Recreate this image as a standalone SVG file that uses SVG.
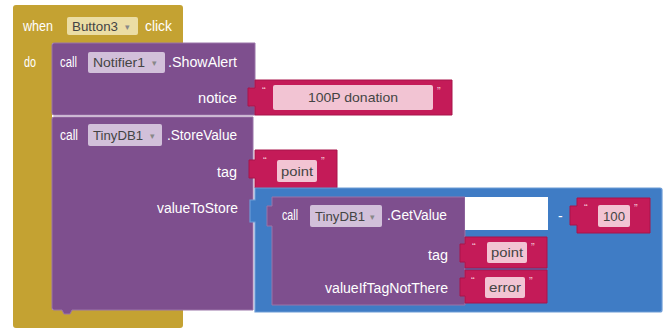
<svg xmlns="http://www.w3.org/2000/svg" width="665" height="331" viewBox="0 0 665 331">
<style>
.t{font-family:"Liberation Sans","DejaVu Sans",sans-serif;font-size:14px;fill:#fff}
.d{font-family:"Liberation Sans","DejaVu Sans",sans-serif;font-size:13px;fill:#444}
.q{font-family:"Liberation Sans","DejaVu Sans",sans-serif;font-size:11px;fill:#f6c9d8}
.ar{font-family:"DejaVu Sans",sans-serif;font-size:9px;fill:#888}
.gold{fill:#C4A232}
.pur{fill:#7E4F8E;stroke:#9A74A8;stroke-width:1}
.red{fill:#C41B58;stroke:#A8144A;stroke-width:1}
.pink{fill:#F2C4D3}
.blue{fill:#3F7CC5;stroke:#6C9BD6;stroke-width:1.2}
</style>
<rect width="665" height="331" fill="#fff"/>

<g id="event-button3-click">
<path class="gold" d="M16,5 H180 Q183,5 183,8 V43 H52 V310 H183 V325 Q183,328 180,328 H16 Q13,328 13,325 V8 Q13,5 16,5 Z"/>
<text class="t" x="23" y="31" textLength="30" lengthAdjust="spacingAndGlyphs">when</text>
<rect x="67" y="17" width="71" height="18" rx="2" fill="#EBDDA4"/>
<text class="d" x="72" y="31" textLength="46" lengthAdjust="spacingAndGlyphs">Button3</text>
<text class="ar" x="125" y="30">▾</text>
<text class="t" x="145" y="31" textLength="27" lengthAdjust="spacingAndGlyphs">click</text>
<text class="t" x="24" y="67" textLength="12" lengthAdjust="spacingAndGlyphs">do</text>
</g>

<g id="notifier-showalert">
<path class="pur" d="M54,43 H255 V88 H250 V106 H255 V115 H54 Q52,115 52,113 V45 Q52,43 54,43 Z"/>
<text class="t" x="60" y="67" textLength="17" lengthAdjust="spacingAndGlyphs">call</text>
<rect x="88" y="52" width="77" height="21" rx="2" fill="#D2C0DA"/>
<text class="d" x="93" y="67" textLength="52" lengthAdjust="spacingAndGlyphs">Notifier1</text>
<text class="ar" x="152" y="66">▾</text>
<text class="t" x="168" y="67" textLength="69" lengthAdjust="spacingAndGlyphs">.ShowAlert</text>
<text class="t" x="198" y="103" textLength="39" lengthAdjust="spacingAndGlyphs">notice</text>
</g>

<g id="text-100p-donation">
<path class="red" d="M255,80 H452 V115 H255 V106 H248 V88 H255 Z"/>
<text class="q" x="262" y="95">“</text>
<rect class="pink" x="273" y="85" width="160" height="25" rx="2"/>
<text class="d" x="353" y="102" text-anchor="middle" textLength="90" lengthAdjust="spacingAndGlyphs">100P donation</text>
<text class="q" x="437" y="95">”</text>
</g>

<g id="tinydb-storevalue">
<path class="pur" d="M54,117 H253 V310 H72 L70,314 H64 L62,310 H54 Q52,310 52,308 V119 Q52,117 54,117 Z"/>
<text class="t" x="60" y="140" textLength="18" lengthAdjust="spacingAndGlyphs">call</text>
<rect x="88" y="124" width="74" height="22" rx="2" fill="#D2C0DA"/>
<text class="d" x="93" y="140" textLength="50" lengthAdjust="spacingAndGlyphs">TinyDB1</text>
<text class="ar" x="150" y="139">▾</text>
<text class="t" x="167" y="140" textLength="70" lengthAdjust="spacingAndGlyphs">.StoreValue</text>
<text class="t" x="217" y="177" textLength="20" lengthAdjust="spacingAndGlyphs">tag</text>
<text class="t" x="157" y="213" textLength="81" lengthAdjust="spacingAndGlyphs">valueToStore</text>
</g>

<g id="text-point-1">
<path class="red" d="M255,150 H337 V188 H255 V178 H249 V160 H255 Z"/>
<text class="q" x="263" y="165">“</text>
<rect class="pink" x="277" y="160" width="40" height="22" rx="2"/>
<text class="d" x="297" y="176" text-anchor="middle" textLength="32" lengthAdjust="spacingAndGlyphs">point</text>
<text class="q" x="321" y="165">”</text>
</g>

<g id="math-subtract">
<path class="blue" d="M255,188 H660 Q662,188 662,190 V310 Q662,312 660,312 H255 V222 H250 V200 H255 Z"/>
<text class="t" x="558" y="221">-</text>
</g>

<g id="tinydb-getvalue">
<path class="pur" d="M272,197 H465 V305 H272 V226 H267 V206 H272 Z"/>
<rect x="465" y="197" width="83" height="33" fill="#fff"/>
<text class="t" x="282" y="220" textLength="16" lengthAdjust="spacingAndGlyphs">call</text>
<rect x="310" y="205" width="72" height="22" rx="2" fill="#D2C0DA"/>
<text class="d" x="315" y="221" textLength="50" lengthAdjust="spacingAndGlyphs">TinyDB1</text>
<text class="ar" x="370" y="220">▾</text>
<text class="t" x="387" y="220" textLength="60" lengthAdjust="spacingAndGlyphs">.GetValue</text>
<text class="t" x="428" y="260" textLength="20" lengthAdjust="spacingAndGlyphs">tag</text>
<text class="t" x="325" y="293" textLength="123" lengthAdjust="spacingAndGlyphs">valueIfTagNotThere</text>
</g>

<g id="text-point-2">
<path class="red" d="M465,237 H547 V268 H465 V262 H460 V244 H465 Z"/>
<text class="q" x="472" y="251">“</text>
<rect class="pink" x="487" y="242" width="40" height="21" rx="2"/>
<text class="d" x="507" y="257" text-anchor="middle" textLength="32" lengthAdjust="spacingAndGlyphs">point</text>
<text class="q" x="531" y="251">”</text>
</g>

<g id="text-error">
<path class="red" d="M465,270 H547 V303 H465 V296 H460 V278 H465 Z"/>
<text class="q" x="471" y="285">“</text>
<rect class="pink" x="485" y="277" width="40" height="21" rx="2"/>
<text class="d" x="505" y="292" text-anchor="middle" textLength="32" lengthAdjust="spacingAndGlyphs">error</text>
<text class="q" x="529" y="285">”</text>
</g>

<g id="text-100">
<path class="red" d="M577,198 H650 V233 H577 V225 H570 V206 H577 Z"/>
<text class="q" x="584" y="212">“</text>
<rect class="pink" x="598" y="205" width="32" height="22" rx="2"/>
<text class="d" x="614" y="221" text-anchor="middle" textLength="22" lengthAdjust="spacingAndGlyphs">100</text>
<text class="q" x="634" y="212">”</text>
</g>

<g id="connectors"/>
</svg>
